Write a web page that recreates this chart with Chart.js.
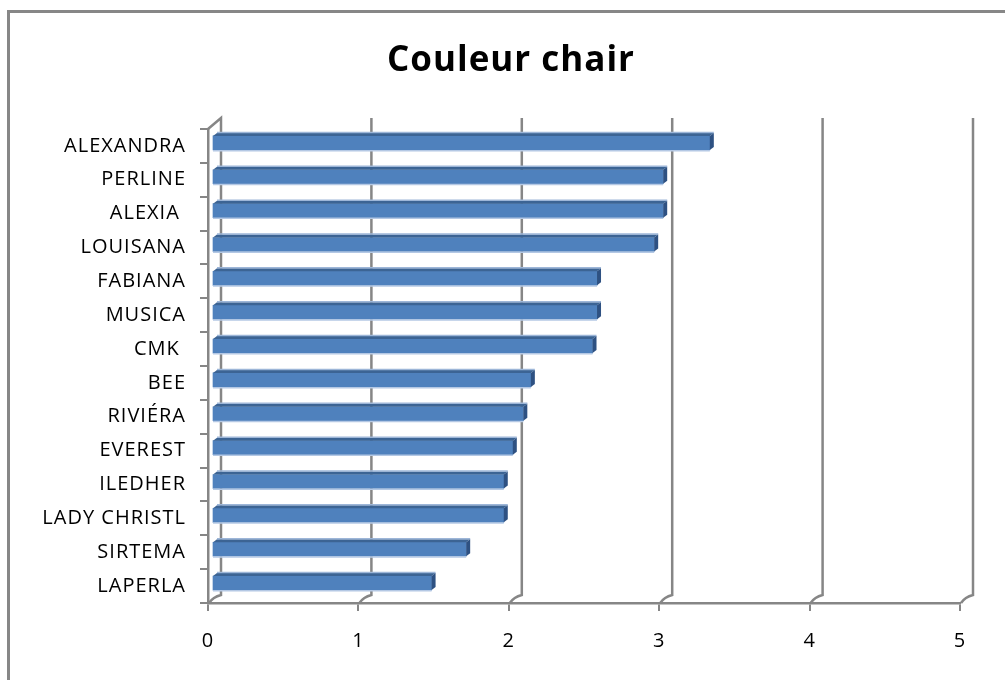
<!DOCTYPE html>
<html>
<head>
<meta charset="utf-8">
<script src="https://cdn.jsdelivr.net/npm/chart.js@4/dist/chart.umd.min.js"></script>
<style>
  html, body { margin: 0; padding: 0; background: #fff; overflow: hidden; }
  #frame {
    position: absolute; left: 7px; top: 10px; width: 1200px; height: 900px;
    border-left: 3px solid #878787; border-top: 3px solid #878787;
  }
  #chart { position: absolute; left: 0; top: 0; }
</style>
</head>
<body>
<div id="frame"></div>
<canvas id="chart" width="1005" height="680"></canvas>
<script>
// ===============================
// Data
// ===============================
const categories = [
    "ALEXANDRA", "PERLINE", "ALEXIA ", "LOUISANA", "FABIANA", "MUSICA", "CMK ",
    "BEE", "RIVIÉRA", "EVEREST", "ILEDHER", "LADY CHRISTL", "SIRTEMA", "LAPERLA"
];
const scores = [3.31, 3.0, 3.0, 2.94, 2.56, 2.56, 2.53, 2.12, 2.07, 2.0, 1.94, 1.94, 1.69, 1.46];
const xTicks = [0, 1, 2, 3, 4, 5];

const GRID = "#868686";
const BAR_DX = 4, BAR_DY = 3;   // bar depth
const WALL_DX = 13, WALL_DY = 8; // back wall offset

// ===============================
// Fake 3D: back wall grid + bar faces
// ===============================
const excel3d = {
    id: "excel3d",
    beforeUpdate(chart) { chart.ctx.letterSpacing = "1px"; },
    afterLayout(chart) {
        // category labels reach past the (narrow) y scale box, don't clip them
        chart.scales.y._computeLabelArea = () => undefined;
    },
    beforeDraw(chart) { chart.ctx.letterSpacing = "1px"; },
    beforeDatasetsDraw(chart) {
        const ctx = chart.ctx;
        const area = chart.chartArea;
        const xs = chart.scales.x;
        ctx.save();
        ctx.strokeStyle = GRID;
        ctx.lineWidth = 2.5;
        xTicks.forEach(v => {
            const px = xs.getPixelForValue(v);
            ctx.beginPath();
            if (v === 0) ctx.moveTo(px, area.top);
            ctx.lineTo(px + WALL_DX, area.top - 11);
            ctx.lineTo(px + WALL_DX, area.bottom - WALL_DY);
            ctx.quadraticCurveTo(px + 5, area.bottom - 6, px + 1, area.bottom);
            ctx.stroke();
        });
        ctx.restore();

        // bars sit a little inside the wall
        ctx.save();
        ctx.translate(BAR_DX, -BAR_DY);
    },
    afterDatasetsDraw(chart) {
        const ctx = chart.ctx;
        const meta = chart.getDatasetMeta(0);
        meta.data.forEach(bar => {
            const { x, y, base, height } = bar.getProps(["x", "y", "base", "height"], true);
            const top = y - height / 2;
            const bottom = y + height / 2;

            // top face
            ctx.fillStyle = "#3C6494";
            ctx.beginPath();
            ctx.moveTo(base, top);
            ctx.lineTo(x, top);
            ctx.lineTo(x + BAR_DX, top - BAR_DY);
            ctx.lineTo(base + BAR_DX, top - BAR_DY);
            ctx.closePath();
            ctx.fill();
            ctx.strokeStyle = "#9DB6D8";
            ctx.lineWidth = 1.5;
            ctx.beginPath();
            ctx.moveTo(base + BAR_DX, top - BAR_DY - 0.5);
            ctx.lineTo(x + BAR_DX, top - BAR_DY - 0.5);
            ctx.stroke();

            // side face
            ctx.fillStyle = "#2E5182";
            ctx.beginPath();
            ctx.moveTo(x, top);
            ctx.lineTo(x + BAR_DX, top - BAR_DY);
            ctx.lineTo(x + BAR_DX, bottom - BAR_DY);
            ctx.lineTo(x, bottom);
            ctx.closePath();
            ctx.fill();

            // light edge under the bar
            ctx.strokeStyle = "#B4C8E4";
            ctx.lineWidth = 1.5;
            ctx.beginPath();
            ctx.moveTo(base, bottom + 0.7);
            ctx.lineTo(x, bottom + 0.7);
            ctx.stroke();
        });
        ctx.restore();
    }
};

// ===============================
// Chart
// ===============================
const tickFont = { family: "'Open Sans', sans-serif", size: 20 };

new Chart(document.getElementById("chart"), {
    type: "bar",
    data: {
        labels: categories,
        datasets: [{
            data: scores,
            backgroundColor: "#4F81BD",
            borderWidth: 0,
            barThickness: 14
        }]
    },
    options: {
        indexAxis: "y",
        responsive: false,
        animation: false,
        layout: { padding: { left: 62, right: 45, top: 0, bottom: 0 } },
        plugins: {
            legend: { display: false },
            tooltip: { enabled: false },
            title: {
                display: true,
                text: "Couleur chair",
                color: "#000",
                font: { family: "'Open Sans', sans-serif", size: 35, weight: "bold", lineHeight: 1.2 },
                padding: { top: 40.3, bottom: 46.7 }
            }
        },
        scales: {
            x: {
                min: 0,
                max: 5,
                ticks: { stepSize: 1, color: "#000", font: tickFont, padding: 18 },
                grid: { drawOnChartArea: false, tickLength: 8, color: GRID, lineWidth: 2 },
                border: { color: GRID, width: 2.5 },
                afterFit(s) { s.height = 77; }
            },
            y: {
                ticks: { color: "#000", font: tickFont, padding: 14, autoSkip: false },
                grid: { drawOnChartArea: false, tickLength: 8, color: GRID, lineWidth: 2, offset: true },
                border: { color: GRID, width: 2.5 },
                afterFit(s) { s.width = 146; }
            }
        }
    },
    plugins: [excel3d]
});
</script>
</body>
</html>
